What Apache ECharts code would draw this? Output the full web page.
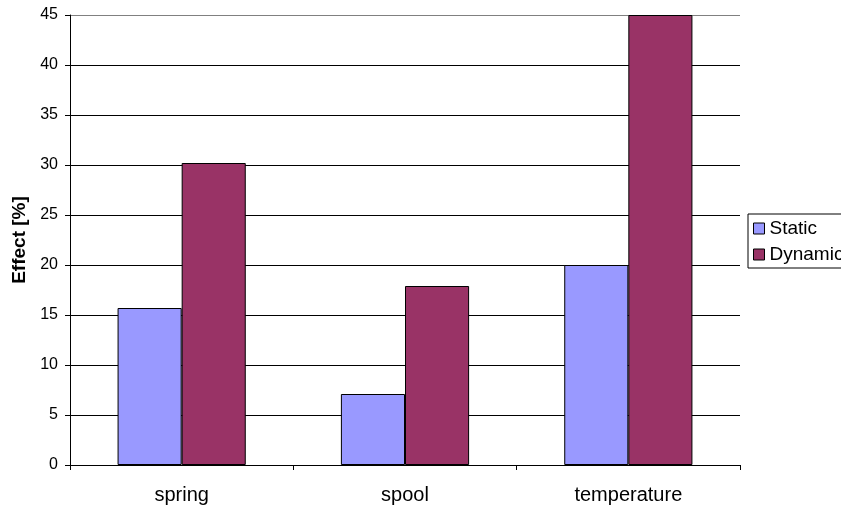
<!DOCTYPE html>
<html><head><meta charset="utf-8">
<script src="https://cdn.jsdelivr.net/npm/echarts@6/dist/echarts.min.js"></script>
<style>html,body{margin:0;padding:0;background:#fff}#c{width:841px;height:508px}</style>
</head><body><div id="c"></div>
<script>
const categories = ['spring', 'spool', 'temperature'];
const staticValues = [15.7, 7.1, 20.0];
const dynamicValues = [30.2, 17.9, 45.0];
const seriesNames = ['Static', 'Dynamic'];
const yAxisTitle = 'Effect [%]';

const chart = echarts.init(document.getElementById('c'), null, {renderer: 'canvas'});
chart.setOption({
  animation: false,
  backgroundColor: '#fff',
  textStyle: {fontFamily: 'Liberation Sans, Arial, sans-serif'},
  grid: {left: 70, right: 101, top: 15, bottom: 43, containLabel: false},
  legend: {
    orient: 'vertical', left: 748, top: 214,
    itemWidth: 11, itemHeight: 11, itemGap: 7,
    icon: 'rect',
    borderColor: '#000', borderWidth: 1, borderRadius: 0,
    padding: [5, 40, 4, 5],
    textStyle: {fontSize: 19, color: '#000', padding: [0, 0, 0, 0]},
    itemStyle: {borderColor: '#000', borderWidth: 1},
    data: seriesNames
  },
  xAxis: {
    type: 'category', data: categories,
    axisLine: {lineStyle: {color: '#000', width: 1}},
    axisTick: {show: true, alignWithLabel: false, length: 5, lineStyle: {color: '#000'}},
    axisLabel: {fontSize: 20, color: '#000', margin: 20}
  },
  yAxis: {
    type: 'value', min: 0, max: 45, interval: 5,
    name: yAxisTitle, nameLocation: 'middle', nameGap: 38,
    nameTextStyle: {fontSize: 19, fontWeight: 'bold', color: '#000'},
    axisLine: {show: true, lineStyle: {color: '#000', width: 1}},
    axisTick: {show: true, inside: false, length: 5, lineStyle: {color: '#000'}},
    axisLabel: {fontSize: 16, color: '#000', margin: 12},
    splitLine: {show: true, lineStyle: {color: ['#000','#000','#000','#000','#000','#000','#000','#000','#000','#808080'], width: 1}}
  },
  series: [
    {name: seriesNames[0], type: 'bar', data: staticValues, barGap: '0%', barCategoryGap: '42.6%',
     itemStyle: {color: '#9999FF', borderColor: '#000', borderWidth: 1}},
    {name: seriesNames[1], type: 'bar', data: dynamicValues, barGap: '0%', barCategoryGap: '42.6%',
     itemStyle: {color: '#993366', borderColor: '#000', borderWidth: 1}}
  ]
});
</script></body></html>
